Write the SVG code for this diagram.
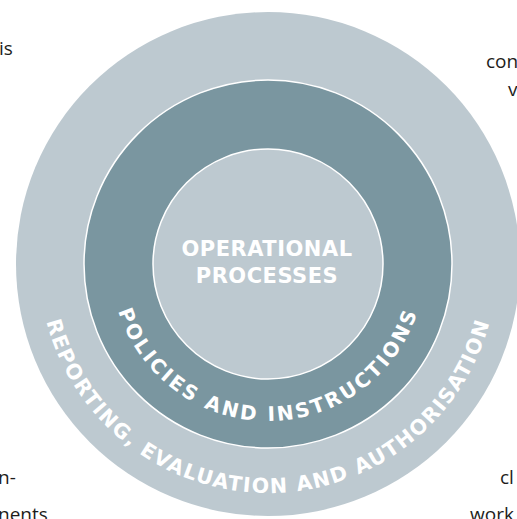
<svg xmlns="http://www.w3.org/2000/svg" width="517" height="519" viewBox="0 0 517 519">
<style>
.light{fill:#bdc9d0}
.mid{fill:#7a96a0;stroke:#ffffff;stroke-width:1.5}
.core{fill:#bdc9d0;stroke:#ffffff;stroke-width:1.5}
.lbl{font-family:"DejaVu Sans","Liberation Sans",sans-serif;font-weight:bold;fill:#ffffff}
.body{font-family:"Open Sans","DejaVu Sans",sans-serif;font-size:19px;fill:#1d1d1b}
</style>
<defs>
<path id="arcOuter" d="M 39 264 A 229 229 0 0 0 497 264"/>
<path id="arcMid" d="M 111 264 A 157 157 0 0 0 425 264"/>
</defs>
<g id="side-text">
<text class="body" x="-1" y="55">is</text>
<text class="body" x="486" y="68">con</text>
<text class="body" x="508" y="96">v</text>
<text class="body" x="-2" y="484">n-</text>
<text class="body" x="-2" y="521">nents</text>
<text class="body" x="500" y="484">cl</text>
<text class="body" x="470" y="521">work</text>
</g>
<g id="ring-reporting">
<circle class="light" cx="268" cy="264" r="252"/>
<text class="lbl" font-size="20.5" letter-spacing="1.5"><textPath href="#arcOuter" startOffset="50%" text-anchor="middle">REPORTING, EVALUATION AND AUTHORISATION</textPath></text>
</g>
<g id="ring-policies">
<circle class="mid" cx="268" cy="264" r="184"/>
<text class="lbl" font-size="20" letter-spacing="2.6"><textPath href="#arcMid" startOffset="50%" text-anchor="middle">POLICIES AND INSTRUCTIONS</textPath></text>
</g>
<g id="core-processes">
<circle class="core" cx="268" cy="264" r="115"/>
<text class="lbl" font-size="21" letter-spacing="0.5" text-anchor="middle" x="267" y="256">OPERATIONAL</text>
<text class="lbl" font-size="21" letter-spacing="0.5" text-anchor="middle" x="267" y="283">PROCESSES</text>
</g>
</svg>
